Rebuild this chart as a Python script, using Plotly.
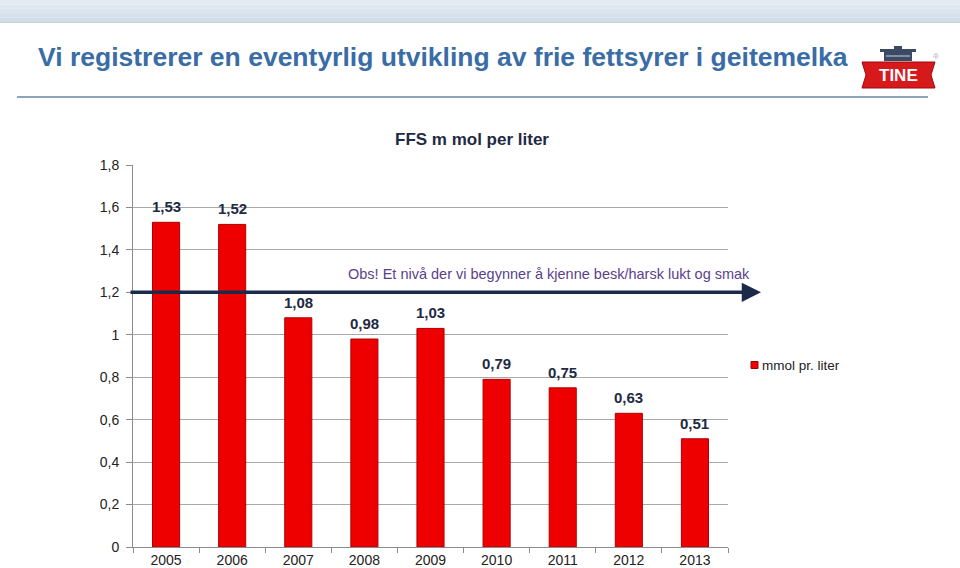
import plotly.graph_objects as go

years = ["2005", "2006", "2007", "2008", "2009", "2010", "2011", "2012", "2013"]
ffs = [1.53, 1.52, 1.08, 0.98, 1.03, 0.79, 0.75, 0.63, 0.51]
y_ticks = [0, 0.2, 0.4, 0.6, 0.8, 1.0, 1.2, 1.4, 1.6, 1.8]
y_ticktext = ["0", "0,2", "0,4", "0,6", "0,8", "1", "1,2", "1,4", "1,6", "1,8"]
threshold = 1.2
series_name = "mmol pr. liter"

W, H = 960, 568
L, R, T, B = 133, 728, 165, 547


def px(x):
    return (x - L) / (R - L)


def py(y):
    return (B - y) / (B - T)


fig = go.Figure()
fig.add_trace(go.Bar(
    x=years, y=ffs, name=series_name, showlegend=False,
    width=0.41,
    marker=dict(color="#ee0000", line=dict(color="#b00000", width=1)),
))

shapes = []
# top gradient band
band = ["#e3eaf2", "#dee7f0", "#d9e4ee", "#d4e1ec", "#d0deea"]
for i, c in enumerate(band):
    y0 = i * 22 / len(band)
    y1 = (i + 1) * 22 / len(band)
    shapes.append(dict(type="rect", xref="paper", yref="paper",
                       x0=px(0), x1=px(W), y0=py(y1), y1=py(y0),
                       fillcolor=c, line=dict(width=0), layer="below"))
shapes.append(dict(type="line", xref="paper", yref="paper",
                   x0=px(0), x1=px(W), y0=py(22.5), y1=py(22.5),
                   line=dict(color="#c9d1d8", width=1)))
# line under title
shapes.append(dict(type="line", xref="paper", yref="paper",
                   x0=px(17), x1=px(928), y0=py(97), y1=py(97),
                   line=dict(color="#8fa3b9", width=2)))
# logo: red banner
shapes.append(dict(type="path", xref="paper", yref="paper",
                   path=(f"M {px(862)},{py(62)} L {px(935)},{py(62)} L {px(931)},{py(75)} "
                         f"L {px(935)},{py(88)} L {px(862)},{py(88)} L {px(866)},{py(75)} Z"),
                   fillcolor="#d7191c", line=dict(color="#9e0b0e", width=1)))
# logo: pot icon
shapes.append(dict(type="rect", xref="paper", yref="paper",
                   x0=px(884), x1=px(912), y0=py(61), y1=py(51),
                   fillcolor="#3c4a63", line=dict(width=0)))
shapes.append(dict(type="rect", xref="paper", yref="paper",
                   x0=px(880), x1=px(916), y0=py(52), y1=py(49),
                   fillcolor="#3c4a63", line=dict(width=0)))
shapes.append(dict(type="rect", xref="paper", yref="paper",
                   x0=px(894), x1=px(902), y0=py(49), y1=py(46),
                   fillcolor="#3c4a63", line=dict(width=0)))
shapes.append(dict(type="line", xref="paper", yref="paper",
                   x0=px(886), x1=px(910), y0=py(56), y1=py(56),
                   line=dict(color="#c8d2e0", width=1)))
# legend swatch
shapes.append(dict(type="rect", xref="paper", yref="paper",
                   x0=px(751), x1=px(758), y0=py(368.5), y1=py(361.5),
                   fillcolor="#ee0000", line=dict(color="#a00000", width=1)))

annotations = [
    dict(text="<b>Vi registrerer en eventyrlig utvikling av frie fettsyrer i geitemelka</b>",
         xref="paper", yref="paper", x=px(36), y=py(57), xanchor="left", yanchor="middle",
         showarrow=False,
         font=dict(family="Arial, Liberation Sans", size=26.5, color="#3a6ca6")),
    dict(text="<b>TINE</b>", xref="paper", yref="paper", x=px(898.5), y=py(75.5),
         xanchor="center", yanchor="middle", showarrow=False,
         font=dict(family="Arial, Liberation Sans", size=17, color="white")),
    dict(text="®", xref="paper", yref="paper", x=px(941), y=py(50), showarrow=False,
         font=dict(family="Arial", size=8, color="#aaaaaa")),
    dict(text="<b>FFS m mol per liter</b>", xref="paper", yref="paper",
         x=px(472), y=py(139), xanchor="center", yanchor="middle", showarrow=False,
         font=dict(family="Arial, Liberation Sans", size=17, color="#1f2a44")),
    # threshold arrow
    dict(text="", xref="paper", yref="y", x=px(761), y=threshold,
         ax=-(761 - 129), ay=0, axref="pixel", ayref="pixel",
         showarrow=True, arrowhead=2, arrowsize=1.1, arrowwidth=3.5, arrowcolor="#1b2a4a"),
    dict(text="Obs! Et nivå der vi begynner å kjenne besk/harsk lukt og smak",
         xref="paper", yref="paper", x=px(549), y=py(274), xanchor="center", yanchor="middle",
         showarrow=False,
         font=dict(family="Arial, Liberation Sans", size=14.5, color="#5b3f8c")),
    # legend text
    dict(text=series_name, xref="paper", yref="paper", x=px(760), y=py(365),
         xanchor="left", yanchor="middle", showarrow=False,
         font=dict(family="Arial, Liberation Sans", size=13.5, color="#222222")),
]
# bar value labels (x = category index)
for i, v in enumerate(ffs):
    annotations.append(dict(
        text="<b>" + f"{v:.2f}".replace(".", ",") + "</b>",
        x=i, y=v, xref="x", yref="y", xanchor="center", yanchor="bottom",
        yshift=5, showarrow=False,
        font=dict(family="Arial, Liberation Sans", size=15, color="#1f2a44")))

fig.update_layout(
    width=W, height=H,
    margin=dict(l=L, r=W - R, t=T, b=H - B, pad=0, autoexpand=False),
    paper_bgcolor="white", plot_bgcolor="white",
    font=dict(family="Arial, Liberation Sans", size=14, color="#222222"),
    showlegend=False,
    shapes=shapes,
    annotations=annotations,
    xaxis=dict(type="category", range=[-0.5, len(years) - 0.5], autorange=False,
               showgrid=False, showline=True, linecolor="#8c8c8c",
               ticks="outside", tickson="boundaries", ticklen=5, tickcolor="#8c8c8c",
               automargin=False,
               tickfont=dict(size=14, color="#222222")),
    yaxis=dict(range=[0, 1.8], autorange=False, tickvals=y_ticks, ticktext=y_ticktext,
               showgrid=True, gridcolor="#a9a9a9", gridwidth=1,
               showline=True, linecolor="#8c8c8c", ticks="outside", ticklen=6,
               tickcolor="#8c8c8c", zeroline=False, ticklabelstandoff=4,
               automargin=False,
               tickfont=dict(size=14, color="#222222")),
)

fig.write_html("out.html")
